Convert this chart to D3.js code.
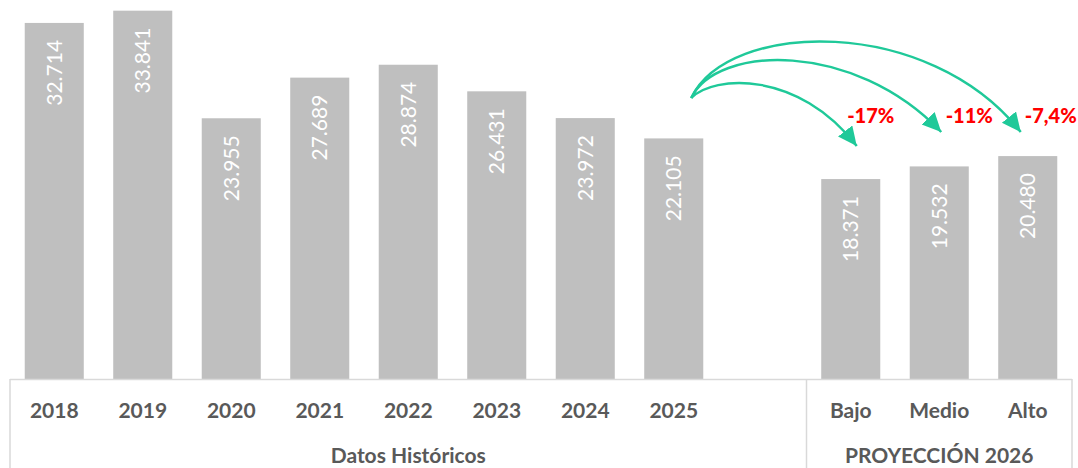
<!DOCTYPE html>
<html><head><meta charset="utf-8">
<script src="https://cdn.jsdelivr.net/npm/d3@7"></script>
<style>
html,body{margin:0;padding:0;background:#fff;}
svg{display:block;}
</style></head>
<body>
<svg id="chart" width="1078" height="468"></svg>
<script>
const histCategories = ["2018","2019","2020","2021","2022","2023","2024","2025"];
const histValues = [32714, 33841, 23955, 27689, 28874, 26431, 23972, 22105];
const projCategories = ["Bajo","Medio","Alto"];
const projValues = [18371, 19532, 20480];
const projChanges = ["-17%","-11%","-7,4%"];
const groupLabels = ["Datos Históricos","PROYECCIÓN 2026"];

const svg = d3.select("#chart");
const W = 1078, H = 468;
const left = 10, right = 1072, base = 379;

const slots = [...histCategories, "_gap", ...projCategories];
const values = [...histValues, null, ...projValues];
const data = slots.map((c,i)=>({cat:c, v:values[i]})).filter(d=>d.v!==null);

const x = d3.scaleBand().domain(slots).range([left,right]).paddingInner(0.333).paddingOuter(0.1665);
const y = d3.scaleLinear().domain([0,35000]).range([base, base - 35000*0.010884]);

const fmt = v => d3.format(",")(v).replace(/,/g,".");

// bars
svg.append("g").selectAll("rect").data(data).join("rect")
  .attr("x", d=>x(d.cat)).attr("width", x.bandwidth())
  .attr("y", d=>y(d.v)).attr("height", d=>y(0)-y(d.v))
  .attr("fill", "#bfbfbf");

// value labels
svg.append("g").selectAll("text").data(data).join("text")
  .attr("transform", d=>`translate(${x(d.cat)+x.bandwidth()/2},${y(d.v)+17}) rotate(-90)`)
  .attr("text-anchor","end").attr("dy","0.36em")
  .attr("fill","#ffffff").attr("font-family","Lato, 'Open Sans', sans-serif")
  .attr("font-size","21px")
  .text(d=>fmt(d.v));

// axis frame
const axisColor = "#d9d9d9";
const sep = x("_gap") + x.bandwidth() + x.step()*x.paddingInner()/2;
svg.append("line").attr("x1",left).attr("x2",right).attr("y1",base+0.5).attr("y2",base+0.5).attr("stroke",axisColor).attr("stroke-width",1.5);
[left, sep, right].forEach(px=>{
  svg.append("line").attr("x1",px).attr("x2",px).attr("y1",base).attr("y2",H).attr("stroke",axisColor).attr("stroke-width",1.5);
});

// category labels
svg.append("g").selectAll("text").data(slots.filter(s=>s!=="_gap")).join("text")
  .attr("x", d=>x(d)+x.bandwidth()/2).attr("y", 418)
  .attr("text-anchor","middle").attr("fill","#595959")
  .attr("font-family","Lato, 'Open Sans', sans-serif").attr("font-weight","bold").attr("font-size","21px")
  .text(d=>d);

// group labels
const groups = [[left, sep],[sep, right]];
svg.append("g").selectAll("text").data(groupLabels).join("text")
  .attr("x",(d,i)=>(groups[i][0]+groups[i][1])/2).attr("y",463)
  .attr("text-anchor","middle").attr("fill","#595959")
  .attr("font-family","Lato, 'Open Sans', sans-serif").attr("font-weight","bold").attr("font-size","21px")
  .text(d=>d);

// arrows
const green = "#1fc999";
svg.append("defs").append("marker")
  .attr("id","ah").attr("markerUnits","userSpaceOnUse")
  .attr("markerWidth",22).attr("markerHeight",20)
  .attr("refX",19).attr("refY",9).attr("orient","auto")
  .append("path").attr("d","M0,0 L19,9 L0,18 Z").attr("fill",green);

const startX = x("2025") + x.bandwidth() - 12, startY = 98;
const arrowEnds = projCategories.map((c,i)=>({cat:c, i}));
const ctrl = [
  {c1:[22,-23], c2:[107,-28], tip:[6,146]},
  {c1:[25,-53], c2:[162,-58], tip:[2,132]},
  {c1:[37,-78], c2:[237,-83], tip:[-7,132]}
];
svg.append("g").selectAll("path").data(arrowEnds).join("path")
  .attr("d", d=>{
    const k = ctrl[d.i];
    const ex = x(d.cat)+x.bandwidth()/2 + k.tip[0], ey = k.tip[1];
    return `M${startX},${startY} C${startX+k.c1[0]},${startY+k.c1[1]} ${startX+k.c2[0]},${startY+k.c2[1]} ${ex},${ey}`;
  })
  .attr("fill","none").attr("stroke",green).attr("stroke-width",2.5)
  .attr("marker-end","url(#ah)");

// change labels
const labOff = [20, 30, 23];
svg.append("g").selectAll("text").data(projChanges).join("text")
  .attr("x",(d,i)=>x(projCategories[i])+x.bandwidth()/2+labOff[i]).attr("y",123)
  .attr("text-anchor","middle").attr("fill","#ff0000")
  .attr("font-family","Lato, 'Open Sans', sans-serif").attr("font-weight","900").attr("font-size","20px")
  .text(d=>d);
</script>
</body></html>
